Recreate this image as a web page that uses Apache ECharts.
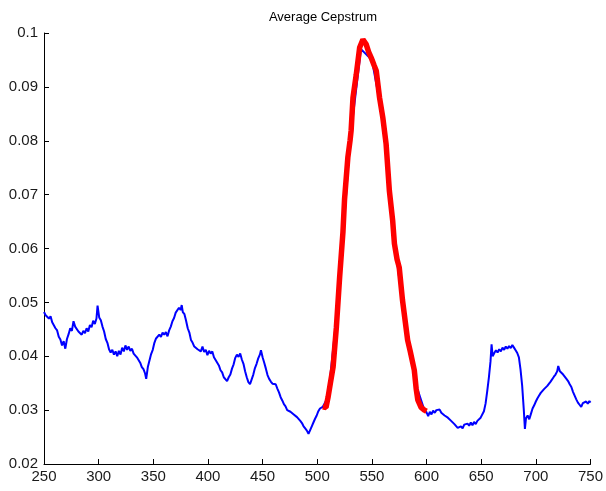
<!DOCTYPE html>
<html>
<head>
<meta charset="utf-8">
<script src="https://cdn.jsdelivr.net/npm/echarts@6/dist/echarts.min.js"></script>
<style>html,body{margin:0;padding:0;background:#fff}#c{width:606px;height:491px}</style>
</head>
<body>
<div id="c"></div>
<script>
var titleText = "Average Cepstrum";
var xTicks = [250, 300, 350, 400, 450, 500, 550, 600, 650, 700, 750];
var yTicks = [0.02, 0.03, 0.04, 0.05, 0.06, 0.07, 0.08, 0.09, 0.1];

var blueX = [250,251.5,253,254.5,256,257.5,259,260.5,262,263.5,265,266.5,268,269.5,271,272.5,274,275.5,277,278.5,280,281.5,283,284.5,286,287.5,289,290.5,292,293.5,295,296.5,298,299,300.5,302,303.5,305,306.5,308,309.5,311,312.5,314,315.5,317,318.5,320,321.5,323,324.5,326,327.5,329,330.5,332,333.5,335,336.5,338,339.5,341,342.5,343.5,345,346.5,348,349.5,351,352.5,354,355.5,357,358.5,360,361.5,363,364.5,366,367.5,369,370.5,372,373.5,375,376,377,378.5,380,381.5,383,384.5,386,387.5,389,390.5,392,393.5,395,396.5,398,399.5,401,402.5,404,405.5,407,408.5,410,411.5,413,414.5,416,417.5,419,420.5,422,423.5,425,426.5,428,429.5,431,432.5,434,435.5,437,438.5,440,441.5,443,444.5,446,447.5,448.5,450,451.5,453,454.5,456,457.5,459,460.5,462,463.5,465,466.5,468,469.5,471,472.5,474,475.5,477,478.5,480,481.5,483,484.5,486,487.5,489,490.5,492,493.5,495,496.5,498,499.5,501,502.5,504,505,510,520,530,540,550,560,570,580,590,598,600,601.5,603,604.5,606,607.5,609,610.5,612,613.5,615,616.5,618,619.5,621,622.5,624,625.5,627,628.5,630,631.5,633,634.5,636,637.5,639,640.5,642,643.5,645,646.5,648,649.5,651,652.5,654,655.5,657,658.5,659.5,660.5,662,663.5,665,666.5,668,669.5,671,672.5,674,675.5,677,678.5,680,681.5,683,684.5,686,687.5,689,690,691,692.5,694,695.5,697,698.5,700,701.5,703,704.5,706,707.5,709,710.5,712,713.5,715,716.5,718,719.5,720.5,722,723.5,725,726.5,728,729.5,731,732.5,734,735.5,737,738.5,740,741.5,743,744.5,746,747.5,749,750];
var blueY = [0.0482,0.0476,0.0479,0.0470,0.0474,0.0463,0.0466,0.0452,0.0448,0.0436,0.0431,0.0420,0.0428,0.0414,0.0432,0.0441,0.0452,0.0447,0.0465,0.0455,0.0458,0.0446,0.0449,0.0440,0.0447,0.0443,0.0452,0.0446,0.0458,0.0454,0.0466,0.0460,0.0470,0.0494,0.0472,0.0467,0.0455,0.0446,0.0432,0.0425,0.0413,0.0407,0.0412,0.0403,0.0409,0.0400,0.0410,0.0403,0.0416,0.0409,0.0420,0.0412,0.0418,0.0410,0.0414,0.0405,0.0407,0.0398,0.0393,0.0388,0.0380,0.0376,0.0368,0.0358,0.0380,0.0392,0.0404,0.0412,0.0425,0.0433,0.0431,0.0440,0.0436,0.0444,0.0440,0.0445,0.0437,0.0448,0.0455,0.0465,0.0471,0.0481,0.0484,0.0490,0.0486,0.0495,0.0482,0.0478,0.0466,0.0452,0.0444,0.0430,0.0425,0.0418,0.0421,0.0413,0.0416,0.0409,0.0418,0.0408,0.0412,0.0402,0.0410,0.0405,0.0409,0.0398,0.0393,0.0388,0.0383,0.0374,0.0370,0.0361,0.0358,0.0354,0.0361,0.0366,0.0377,0.0385,0.0397,0.0403,0.0399,0.0405,0.0394,0.0386,0.0372,0.0361,0.0352,0.0348,0.0357,0.0366,0.0378,0.0386,0.0396,0.0403,0.0411,0.0398,0.0388,0.0377,0.0365,0.0358,0.0353,0.0349,0.0346,0.0348,0.0340,0.0333,0.0324,0.0318,0.0311,0.0307,0.0300,0.0302,0.0297,0.0298,0.0292,0.0290,0.0287,0.0285,0.0280,0.0276,0.0270,0.0266,0.0262,0.0256,0.0263,0.0270,0.0277,0.0284,0.0290,0.0298,0.0303,0.0300,0.0306,0.0325,0.0520,0.0800,0.0970,0.0950,0.0840,0.0620,0.0470,0.0350,0.0300,0.0296,0.0289,0.0297,0.0292,0.0299,0.0295,0.0300,0.0297,0.0301,0.0295,0.0296,0.0290,0.0291,0.0286,0.0285,0.0280,0.0279,0.0274,0.0272,0.0267,0.0264,0.0270,0.0266,0.0273,0.0270,0.0275,0.0271,0.0277,0.0272,0.0278,0.0274,0.0280,0.0279,0.0286,0.0289,0.0298,0.0312,0.0335,0.0360,0.0390,0.0422,0.0400,0.0406,0.0411,0.0407,0.0413,0.0409,0.0416,0.0412,0.0418,0.0414,0.0419,0.0415,0.0421,0.0416,0.0411,0.0406,0.0398,0.0375,0.0345,0.0300,0.0265,0.0285,0.0290,0.0283,0.0293,0.0303,0.0309,0.0316,0.0322,0.0327,0.0332,0.0334,0.0339,0.0342,0.0345,0.0348,0.0353,0.0355,0.0362,0.0366,0.0372,0.0382,0.0372,0.0371,0.0366,0.0364,0.0358,0.0354,0.0348,0.0343,0.0334,0.0327,0.0320,0.0314,0.0310,0.0306,0.0313,0.0310,0.0316,0.0312,0.0317,0.0314];

var redX = [505,508,510,512,514.5,517.5,520.5,523.5,525,528,530,531,532.7,535.7,538.8,541.8,543,544.8,547,549.4,552,554,557,560,563,566,569,570.6,573,575,578,582.7,585,588.8,590.5,592,595,598,600];
var redY = [0.0306,0.0305,0.0325,0.0350,0.0380,0.0454,0.0547,0.0630,0.0692,0.0769,0.0800,0.0819,0.0880,0.0923,0.0973,0.0988,0.0985,0.0979,0.0965,0.0954,0.0940,0.0930,0.0880,0.0843,0.0794,0.0707,0.0652,0.0609,0.0580,0.0565,0.0504,0.0430,0.0410,0.0374,0.0340,0.0319,0.0305,0.0300,0.0298];

function pairs(xs, ys) { return xs.map(function (x, i) { return [x, ys[i]]; }); }

var chart = echarts.init(document.getElementById('c'), null, {renderer: 'canvas'});
var labelStyle = {color: '#1a1a1a', fontSize: 15, fontFamily: 'Liberation Sans, Arial, sans-serif'};
chart.setOption({
  animation: false,
  backgroundColor: '#fff',
  title: {
    text: titleText, left: 318, top: 6, textAlign: 'center',
    textStyle: {fontSize: 13, fontWeight: 'normal', color: '#000', fontFamily: 'Liberation Sans, Arial, sans-serif'}
  },
  grid: {left: 44, right: 13, top: 33, bottom: 27, containLabel: false},
  xAxis: {
    type: 'value', min: xTicks[0], max: xTicks[xTicks.length - 1], interval: 50,
    axisLine: {show: true, onZero: false, lineStyle: {color: '#000', width: 1}},
    axisTick: {show: true, inside: true, length: 5, lineStyle: {color: '#000'}},
    axisLabel: Object.assign({margin: 5}, labelStyle),
    splitLine: {show: false}
  },
  yAxis: {
    type: 'value', min: yTicks[0], max: yTicks[yTicks.length - 1], interval: 0.01,
    axisLine: {show: true, onZero: false, lineStyle: {color: '#000', width: 1}},
    axisTick: {show: true, inside: true, length: 5, lineStyle: {color: '#000'}},
    axisLabel: Object.assign({margin: 6, formatter: function (v) { return String(+v.toFixed(2)); }}, labelStyle),
    splitLine: {show: false}
  },
  series: [
    {type: 'line', data: pairs(blueX, blueY), showSymbol: false, symbol: 'none',
     lineStyle: {color: '#0000ff', width: 2}, z: 2},
    {type: 'line', data: pairs(redX, redY), showSymbol: false, symbol: 'none',
     lineStyle: {color: '#ff0000', width: 5.5}, z: 3}
  ]
});
</script>
</body>
</html>
